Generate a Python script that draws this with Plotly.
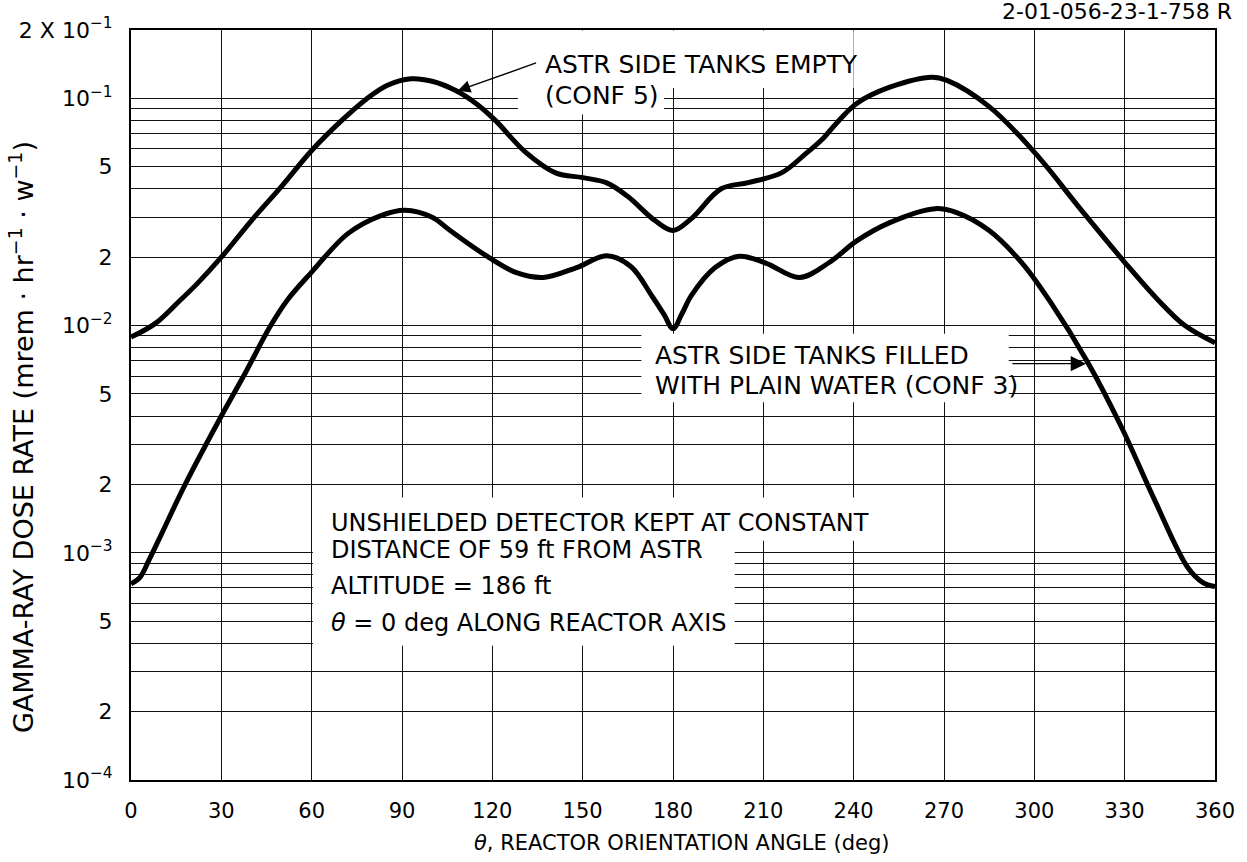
import math
import plotly.graph_objects as go

# Gamma-ray dose rate vs. reactor orientation angle, two ASTR side-tank configurations
angle_empty = [0, 8, 16, 22, 30, 40, 50, 60, 70, 78, 85, 93, 100, 108, 115, 121, 131, 141,
               150, 158, 165, 174, 180, 186, 196, 205, 216, 224, 230, 234, 241, 252, 266,
               271, 285, 300, 315, 330, 341, 350, 360]
dose_empty = [0.0089, 0.0102, 0.0128, 0.0153, 0.020, 0.029, 0.041, 0.059, 0.080, 0.099,
              0.114, 0.122, 0.119, 0.108, 0.094, 0.080, 0.058, 0.047, 0.0448, 0.0425,
              0.037, 0.029, 0.0262, 0.0295, 0.040, 0.0426, 0.047, 0.057, 0.067, 0.077,
              0.095, 0.112, 0.124, 0.120, 0.092, 0.058, 0.033, 0.019, 0.013, 0.0100, 0.0084]

angle_filled = [0, 3, 6, 10, 18, 30, 38, 46, 52, 60, 72, 83, 91, 100, 106, 117, 128, 137,
                148, 158, 166, 173, 177, 180, 183, 186, 194, 202, 211, 222, 232, 241, 252,
                267, 274, 285, 296, 305, 318, 329, 340, 351, 356, 360]
dose_filled = [0.00073, 0.00078, 0.00093, 0.00120, 0.0020, 0.0040, 0.0062, 0.0098, 0.0130,
               0.0172, 0.0254, 0.0305, 0.0322, 0.0300, 0.0262, 0.0207, 0.0171, 0.0163,
               0.0180, 0.0203, 0.0182, 0.0135, 0.0112, 0.0097, 0.0113, 0.0135, 0.0180,
               0.0202, 0.0188, 0.0163, 0.0190, 0.0236, 0.0284, 0.0327, 0.0315, 0.0262,
               0.0188, 0.0129, 0.0068, 0.00356, 0.0017, 0.00086, 0.00074, 0.00071]

x_ticks = list(range(0, 361, 30))
decade_labels = {-4: "10<sup>−4</sup>", -3: "10<sup>−3</sup>", -2: "10<sup>−2</sup>", -1: "10<sup>−1</sup>"}
top_label = "2 X 10<sup>−1</sup>"

Y_MIN, Y_MAX = 1e-4, 0.2
FONT = "DejaVu Sans"

# log-axis gridlines at every 1..9 multiple, labels at 1, 2 and 5
y_vals, y_text = [], []
for d in (-4, -3, -2):
    for m in range(1, 10):
        y_vals.append(m * 10.0 ** d)
        y_text.append(decade_labels[d] if m == 1 else (str(m) if m in (2, 5) else ""))
y_vals += [0.1, 0.2]
y_text += [decade_labels[-1], top_label]

L, T, W_PLOT, H_PLOT = 131, 30, 1093, 750


def ypaper(v):
    return (math.log10(v) - math.log10(Y_MIN)) / (math.log10(Y_MAX) - math.log10(Y_MIN))


def xpix(deg):
    return deg * W_PLOT / 360.0


def ypix(v):
    return -ypaper(v) * H_PLOT


fig = go.Figure()
line_style = dict(color="black", width=5, shape="spline", smoothing=1.0)
fig.add_trace(go.Scatter(x=angle_empty, y=dose_empty, mode="lines", line=line_style,
                         name="CONF 5", showlegend=False, hoverinfo="skip"))
fig.add_trace(go.Scatter(x=angle_filled, y=dose_filled, mode="lines", line=line_style,
                         name="CONF 3", showlegend=False, hoverinfo="skip"))

# white label panels that interrupt the grid (drawn above gridlines, below curves)
panels = [
    (128.5, 240.0, 0.111, 0.199),
    (128.5, 177.0, 0.085, 0.111),
    (169.5, 291.5, 0.0046, 0.0092),
    (60.4, 243.5, 0.00113, 0.00175),
    (60.4, 200.5, 0.00039, 0.00113),
]
for x0, x1, v0, v1 in panels:
    fig.add_shape(type="rect", xref="x", yref="y", x0=x0, x1=x1, y0=v0, y1=v1,
                  fillcolor="white", line=dict(width=0), layer="between")

labels = [
    (136.8, 0.1413, "ASTR SIDE TANKS EMPTY", 25),
    (136.8, 0.1030, "(CONF 5)", 25),
    (173.4, 0.00738, "ASTR SIDE TANKS FILLED", 25),
    (173.4, 0.00545, "WITH PLAIN WATER (CONF 3)", 25),
    (65.6, 0.001355, "UNSHIELDED DETECTOR KEPT AT CONSTANT", 24),
    (65.6, 0.00103, "DISTANCE OF 59 ft FROM ASTR", 24),
    (65.6, 0.000716, "ALTITUDE = 186 ft", 24),
    (65.6, 0.000492, "<i>θ</i> = 0 deg ALONG REACTOR AXIS", 24),
]
for x, v, s, fs in labels:
    fig.add_annotation(x=x, y=ypaper(v), xref="x", yref="paper", text=s,
                       showarrow=False, xanchor="left", yanchor="middle",
                       font=dict(family=FONT, size=fs, color="black"))

# leader arrows pointing at each curve
arrows = [
    ((108.5, 0.108), (134.8, 0.144), 1.8),
    ((317.2, 0.0068), (292.4, 0.0068), 2.2),
]
for (hx, hv), (tx, tv), size in arrows:
    fig.add_annotation(x=hx, y=ypaper(hv), xref="x", yref="paper", text="",
                       showarrow=True, arrowhead=2, arrowsize=size, arrowwidth=1.4,
                       arrowcolor="black", standoff=0, startstandoff=0,
                       ax=xpix(tx) - xpix(hx), ay=ypix(tv) - ypix(hv),
                       axref="pixel", ayref="pixel")

fig.add_annotation(x=-0.1016, y=0.457, xref="paper", yref="paper", textangle=-90,
                   text="GAMMA-RAY DOSE RATE (mrem · hr<sup>−1</sup> · w<sup>−1</sup>)",
                   showarrow=False, xanchor="center", yanchor="middle",
                   font=dict(family=FONT, size=27, color="black"))
fig.add_annotation(x=0.5078, y=-0.084, xref="paper", yref="paper",
                   text="<i>θ</i>, REACTOR ORIENTATION ANGLE (deg)",
                   showarrow=False, xanchor="center", yanchor="middle",
                   font=dict(family=FONT, size=21, color="black"))
fig.add_annotation(x=1.0174, y=1.024, xref="paper", yref="paper",
                   text="2-01-056-23-1-758 R", showarrow=False,
                   xanchor="right", yanchor="middle",
                   font=dict(family=FONT, size=22, color="black"))

fig.update_xaxes(range=[0, 360], tickvals=x_ticks, showgrid=True, gridcolor="#111",
                 gridwidth=1, zeroline=False, showline=True, linecolor="black",
                 linewidth=2, mirror=True, ticks="", ticklabelstandoff=11,
                 tickfont=dict(family=FONT, size=21, color="black"))
fig.update_yaxes(type="log", range=[math.log10(Y_MIN), math.log10(Y_MAX)],
                 tickvals=y_vals, ticktext=y_text, showgrid=True, gridcolor="#111",
                 gridwidth=1, zeroline=False, showline=True, linecolor="black",
                 linewidth=2, mirror=True, ticks="", ticklabelstandoff=12,
                 tickfont=dict(family=FONT, size=22, color="black"))

fig.update_layout(width=1247, height=862, paper_bgcolor="white", plot_bgcolor="white",
                  margin=dict(l=L, r=1247 - L - W_PLOT, t=T, b=862 - T - H_PLOT),
                  showlegend=False, font=dict(family=FONT, color="black"))

fig.write_html("out.html")
